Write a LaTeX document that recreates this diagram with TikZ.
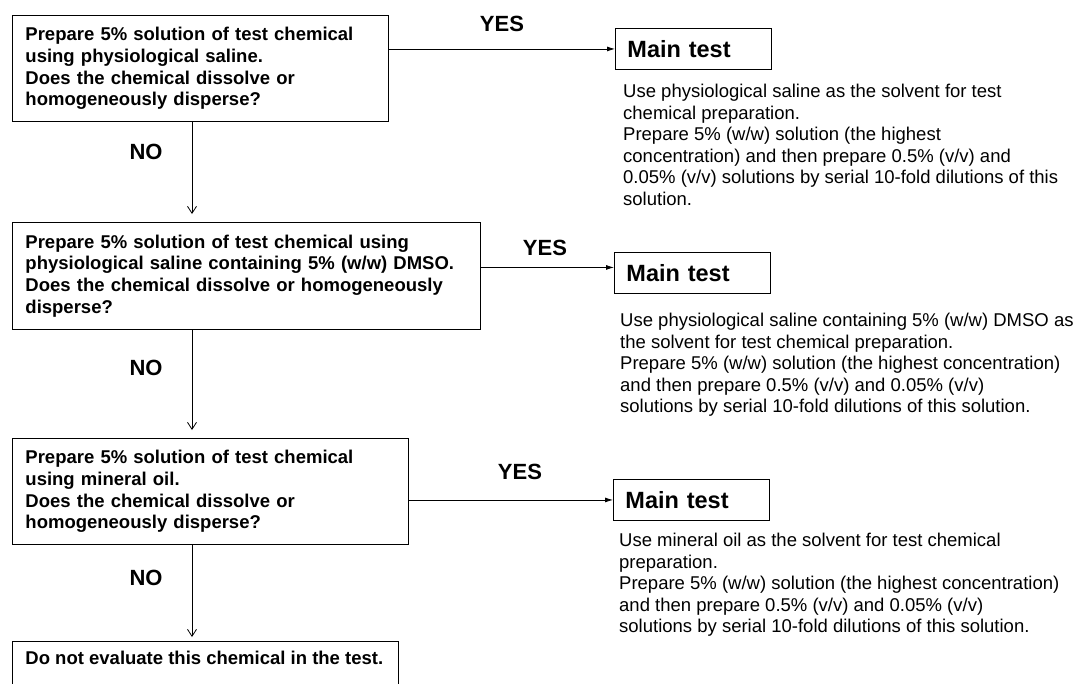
\documentclass[tikz,border=0pt]{standalone}
\usepackage{fontspec}
\setmainfont{Liberation Sans}
\usetikzlibrary{arrows.meta}
\begin{document}
\begin{tikzpicture}[x=1pt,y=-1pt,
  qbox/.style={draw, line width=0.9pt, anchor=north west, align=left, inner xsep=13pt, inner ysep=0pt, font=\bfseries\fontsize{18.5}{21.8}\selectfont},
  mbox/.style={draw, line width=0.9pt, anchor=north west, minimum width=156pt, minimum height=41pt, inner xsep=12pt, inner ysep=0pt, text width=132pt, align=left, font=\bfseries\fontsize{23.5}{28}\selectfont},
  body/.style={anchor=north west, align=left, inner sep=0pt, font=\fontsize{18.5}{21.5}\selectfont},
  lab/.style={font=\bfseries\fontsize{22}{26}\selectfont, inner sep=0pt},
  dn/.style={-{Straight Barb[length=7pt,width=9pt]}, line width=0.8pt, shorten >=8pt},
  rt/.style={-{Latex[length=8pt,width=5pt]}, line width=0.8pt},
]
\useasboundingbox (0,0) rectangle (1083,683);
\fill[white] (0,0) rectangle (1083,683);

% question boxes
\node[qbox, text width=350pt, minimum height=106pt] (b1) at (12,15)
  {Prepare 5\% solution of test chemical\\using physiological saline.\\Does the chemical dissolve or\\homogeneously disperse?};
\node[qbox, text width=442pt, minimum height=107pt] (b2) at (12,222)
  {Prepare 5\% solution of test chemical using\\physiological saline containing 5\% (w/w) DMSO.\\Does the chemical dissolve or homogeneously\\disperse?};
\node[qbox, text width=370pt, minimum height=106pt] (b3) at (12,438)
  {Prepare 5\% solution of test chemical\\using mineral oil.\\Does the chemical dissolve or\\homogeneously disperse?};
\node[qbox, draw=none, minimum height=32pt] (b4) at (12,641)
  {Do not evaluate this chemical in the test.};
\draw[line width=0.9pt] ([yshift=-30pt]b4.south west) -- (b4.north west) -- ([xshift=386pt]b4.north west) -- ([xshift=386pt,yshift=-62pt]b4.north west);

% main test boxes
\node[mbox] (m1) at (615,28) {Main test};
\node[mbox] (m2) at (614,252) {Main test};
\node[mbox] (m3) at (613,479) {Main test};

% descriptions
\node[body] (t1) at (623,84) {Use physiological saline as the solvent for test\\chemical preparation.\\Prepare 5\% (w/w) solution (the highest\\concentration) and then prepare 0.5\% (v/v) and\\0.05\% (v/v) solutions by serial 10-fold dilutions of this\\solution.};
\node[body] (t2) at (620,313) {Use physiological saline containing 5\% (w/w) DMSO as\\the solvent for test chemical preparation.\\Prepare 5\% (w/w) solution (the highest concentration)\\and then prepare 0.5\% (v/v) and 0.05\% (v/v)\\solutions by serial 10-fold dilutions of this solution.};
\node[body] (t3) at (619,533) {Use mineral oil as the solvent for test chemical\\preparation.\\Prepare 5\% (w/w) solution (the highest concentration)\\and then prepare 0.5\% (v/v) and 0.05\% (v/v)\\solutions by serial 10-fold dilutions of this solution.};

% labels
\node[lab] (y1) at (502,24) {YES};
\node[lab] (y2) at (545,248) {YES};
\node[lab] (y3) at (520,472) {YES};
\node[lab] (n1) at (146,152) {NO};
\node[lab] (n2) at (146,368) {NO};
\node[lab] (n3) at (146,578) {NO};

% connectors
\coordinate (vx) at (192,0);
\draw[dn] (b1.south -| vx) -- (b2.north -| vx);
\draw[dn] (b2.south -| vx) -- (b3.north -| vx);
\draw[dn, shorten >=4pt] (b3.south -| vx) -- (b4.north -| vx);
\draw[rt] (b1.east |- m1.west) -- (m1.west);
\draw[rt] ([yshift=5.5pt]b2.east |- m2.west) -- ([yshift=5.5pt]m2.west);
\draw[rt] (b3.east |- m3.west) -- (m3.west);
\end{tikzpicture}
\end{document}
